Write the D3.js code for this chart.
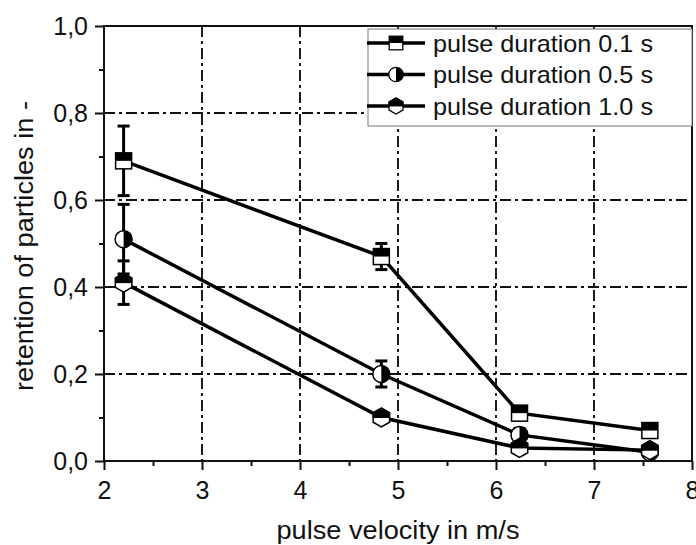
<!DOCTYPE html>
<html>
<head>
<meta charset="utf-8">
<script src="https://cdn.jsdelivr.net/npm/d3@7"></script>
<style>
  body { margin: 0; background: #fff; }
  text { font-family: "Liberation Sans", Arial, sans-serif; fill: #111; }
</style>
</head>
<body>
<div id="chart"></div>
<script>
// data
const velocity = [2.2, 4.83, 6.24, 7.57];
const seriesNames = ["pulse duration 0.1 s", "pulse duration 0.5 s", "pulse duration 1.0 s"];
const retention01 = [0.69, 0.47, 0.11, 0.07];
const error01 = [0.08, 0.03, 0.015, 0.015];
const retention05 = [0.51, 0.20, 0.06, 0.02];
const error05 = [0.08, 0.03, 0.015, 0.01];
const retention10 = [0.41, 0.10, 0.03, 0.025];
const error10 = [0.05, 0.01, 0.01, 0.01];
const xTicks = [2, 3, 4, 5, 6, 7, 8];
const yTicks = [0, 0.2, 0.4, 0.6, 0.8, 1.0];

const W = 696, H = 545;
const margin = {top: 26, right: 4, bottom: 84, left: 104};
const width = W - margin.left - margin.right;
const height = H - margin.top - margin.bottom;

const svg = d3.select("#chart").append("svg")
  .attr("width", W)
  .attr("height", H);

const g = svg.append("g")
  .attr("transform", "translate(" + margin.left + "," + margin.top + ")");

const x = d3.scaleLinear().domain([2, 8]).range([0, width]);
const y = d3.scaleLinear().domain([0, 1]).range([height, 0]);

const comma = v => d3.format(".1f")(v).replace(".", ",");

// dash-dot grid
const dash = "11,4,3,4";
g.selectAll(".vgrid")
  .data(xTicks.filter(d => d > 2 && d < 8))
  .enter().append("line")
  .attr("x1", d => x(d)).attr("x2", d => x(d))
  .attr("y1", 0).attr("y2", height)
  .attr("stroke", "#111").attr("stroke-width", 1.9)
  .attr("stroke-dasharray", dash);

g.selectAll(".hgrid")
  .data(yTicks.filter(d => d > 0 && d < 1))
  .enter().append("line")
  .attr("x1", 0).attr("x2", width)
  .attr("y1", d => y(d)).attr("y2", d => y(d))
  .attr("stroke", "#111").attr("stroke-width", 1.9)
  .attr("stroke-dasharray", dash);

// series
const series = [
  {name: seriesNames[0], values: retention01, errors: error01, shape: "square"},
  {name: seriesNames[1], values: retention05, errors: error05, shape: "circle"},
  {name: seriesNames[2], values: retention10, errors: error10, shape: "hexagon"}
];

series.forEach(s => {
  s.points = velocity.map((v, i) => ({v: v, r: s.values[i], e: s.errors[i]}));
});

const line = d3.line()
  .x(d => x(d.v))
  .y(d => y(d.r));

g.selectAll(".series-line")
  .data(series)
  .enter().append("path")
  .attr("d", s => line(s.points))
  .attr("fill", "none")
  .attr("stroke", "#000")
  .attr("stroke-width", 3.5);

// error bars
series.forEach(s => {
  const eb = g.append("g").attr("stroke", "#000").attr("stroke-width", 3);
  eb.selectAll("line.bar")
    .data(s.points).enter().append("line")
    .attr("x1", d => x(d.v)).attr("x2", d => x(d.v))
    .attr("y1", d => y(d.r + d.e)).attr("y2", d => y(d.r - d.e));
  eb.selectAll("line.capTop")
    .data(s.points).enter().append("line")
    .attr("x1", d => x(d.v) - 6).attr("x2", d => x(d.v) + 6)
    .attr("y1", d => y(d.r + d.e)).attr("y2", d => y(d.r + d.e));
  eb.selectAll("line.capBot")
    .data(s.points).enter().append("line")
    .attr("x1", d => x(d.v) - 6).attr("x2", d => x(d.v) + 6)
    .attr("y1", d => y(d.r - d.e)).attr("y2", d => y(d.r - d.e));
});

// half-filled markers
function drawMarker(sel, shape) {
  if (shape === "square") {
    sel.append("rect").attr("x", -8).attr("y", -8).attr("width", 16).attr("height", 16)
      .attr("fill", "#fff").attr("stroke", "#000").attr("stroke-width", 1.5);
    sel.append("rect").attr("x", -8).attr("y", -8).attr("width", 16).attr("height", 8)
      .attr("fill", "#000");
  } else if (shape === "circle") {
    sel.append("circle").attr("r", 8.5)
      .attr("fill", "#fff").attr("stroke", "#000").attr("stroke-width", 1.5);
    sel.append("path")
      .attr("d", d3.arc()({innerRadius: 0, outerRadius: 8.5, startAngle: 0, endAngle: Math.PI}))
      .attr("fill", "#000");
  } else {
    const r = 9.5;
    const hx = r * Math.cos(Math.PI / 6);
    const hex = [[0, -r], [hx, -r / 2], [hx, r / 2], [0, r], [-hx, r / 2], [-hx, -r / 2]];
    const topHalf = [[0, -r], [hx, -r / 2], [hx, 0], [-hx, 0], [-hx, -r / 2]];
    sel.append("polygon").attr("points", hex.map(p => p.join(",")).join(" "))
      .attr("fill", "#fff").attr("stroke", "#000").attr("stroke-width", 1.5);
    sel.append("polygon").attr("points", topHalf.map(p => p.join(",")).join(" "))
      .attr("fill", "#000").attr("stroke", "#000").attr("stroke-width", 1);
  }
}

series.forEach(s => {
  g.selectAll(null)
    .data(s.points).enter().append("g")
    .attr("transform", d => "translate(" + x(d.v) + "," + y(d.r) + ")")
    .each(function() { drawMarker(d3.select(this), s.shape); });
});

// axes: major and minor ticks, outward
const xAxis = g.append("g")
  .attr("transform", "translate(0," + height + ")")
  .call(d3.axisBottom(x).tickValues(xTicks).tickSize(9).tickPadding(6).tickFormat(d3.format("d")));
const xMinor = g.append("g")
  .attr("transform", "translate(0," + height + ")")
  .call(d3.axisBottom(x).tickValues(d3.range(2.5, 8, 1)).tickSize(5).tickFormat(""));
const yAxis = g.append("g")
  .call(d3.axisLeft(y).tickValues(yTicks).tickSize(9).tickPadding(7).tickFormat(comma));
const yMinor = g.append("g")
  .call(d3.axisLeft(y).tickValues(d3.range(0.1, 1, 0.2)).tickSize(5).tickFormat(""));

[xAxis, xMinor, yAxis, yMinor].forEach(a => {
  a.select(".domain").remove();
  a.selectAll("line").attr("stroke", "#111").attr("stroke-width", 2);
  a.selectAll("text").style("font-size", "25px").attr("fill", "#111");
});
xAxis.selectAll("text").attr("dy", "0.93em");

// frame
g.append("rect")
  .attr("width", width).attr("height", height)
  .attr("fill", "none").attr("stroke", "#111").attr("stroke-width", 2);

// legend
const legend = g.append("g")
  .attr("transform", "translate(" + (368 - margin.left) + "," + (29 - margin.top) + ")");
legend.append("rect")
  .attr("width", width - (368 - margin.left)).attr("height", 97)
  .attr("fill", "#fff").attr("stroke", "#777").attr("stroke-width", 1);

const legendRows = legend.selectAll(".legend")
  .data(series).enter().append("g")
  .attr("transform", (d, i) => "translate(0," + (14 + i * 31.5) + ")");
legendRows.append("line")
  .attr("x1", -1).attr("x2", 57).attr("y1", 0).attr("y2", 0)
  .attr("stroke", "#000").attr("stroke-width", 3.5);
legendRows.append("g")
  .attr("transform", "translate(28,0) scale(0.85)")
  .each(function(d) { drawMarker(d3.select(this), d.shape); });
legendRows.append("text")
  .attr("x", 65).attr("dy", "0.36em")
  .attr("textLength", 220).attr("lengthAdjust", "spacingAndGlyphs")
  .style("font-size", "24px")
  .text(d => d.name);

// axis titles
svg.append("text")
  .attr("x", 398).attr("y", 539)
  .attr("text-anchor", "middle")
  .attr("textLength", 243).attr("lengthAdjust", "spacingAndGlyphs")
  .style("font-size", "25px")
  .text("pulse velocity in m/s");

svg.append("text")
  .attr("transform", "translate(33,246) rotate(-90)")
  .attr("text-anchor", "middle")
  .attr("textLength", 290).attr("lengthAdjust", "spacingAndGlyphs")
  .style("font-size", "25px")
  .text("retention of particles in -");
</script>
</body>
</html>
